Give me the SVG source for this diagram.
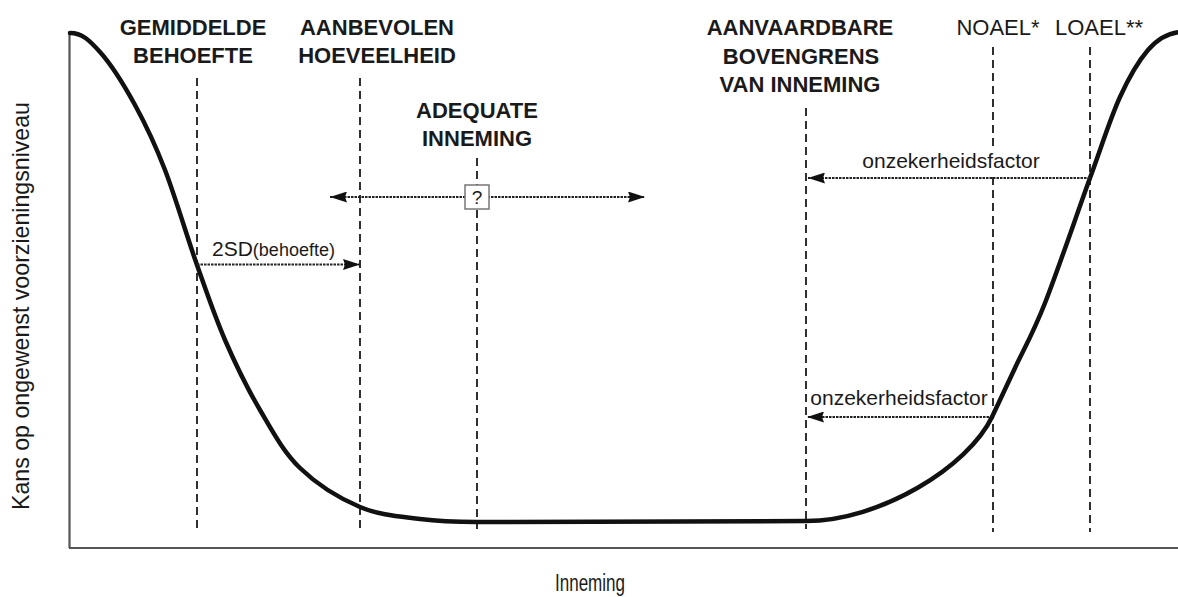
<svg xmlns="http://www.w3.org/2000/svg" width="1178" height="597" viewBox="0 0 1178 597">
  <style>
    .t { font-family: "Liberation Sans", Arial, sans-serif; fill: #1a1a1a; }
    .b { font-weight: bold; font-size: 22px; text-anchor: middle; }
    .r { font-size: 22px; text-anchor: middle; }
    .s { font-size: 21px; }
    .dash { stroke: #1a1a1a; stroke-width: 1.8; stroke-dasharray: 8 5; fill: none; }
    .arr { stroke: #222; stroke-width: 2.2; stroke-dasharray: 2.5 1; fill: none; }
    .axis { stroke: #555; stroke-width: 2.2; fill: none; }
  </style>
  <defs>
    <marker id="ah" viewBox="0 0 17 11" markerWidth="17" markerHeight="11" refX="17" refY="5.5" orient="auto-start-reverse" markerUnits="userSpaceOnUse">
      <path d="M0,0 L17,5.5 L0,11 L2,5.5 z" fill="#111"/>
    </marker>
  </defs>
  <rect width="1178" height="597" fill="#fff"/>

  <g id="axes">
    <line class="axis" x1="69.5" y1="32" x2="69.5" y2="548"/>
    <line class="axis" x1="69" y1="548" x2="1178" y2="548"/>
    <text class="t" font-size="24" text-anchor="middle" textLength="408" lengthAdjust="spacingAndGlyphs" transform="translate(29,306) rotate(-90)">Kans op ongewenst voorzieningsniveau</text>
    <text class="t" x="590" y="591" font-size="23" text-anchor="middle" textLength="70" lengthAdjust="spacingAndGlyphs">Inneming</text>
  </g>

  <g id="guides">
    <line class="dash" x1="197" y1="78" x2="197" y2="532"/>
    <line class="dash" x1="360" y1="78" x2="360" y2="532"/>
    <line class="dash" x1="477" y1="158" x2="477" y2="529"/>
    <line class="dash" x1="806" y1="108" x2="806" y2="529"/>
    <line class="dash" x1="993" y1="47" x2="993" y2="532"/>
    <line class="dash" x1="1090" y1="47" x2="1090" y2="532"/>
  </g>

  <g id="curve">
    <path d="M70,33 C82,33 89.2,40 100,52 C110.8,64 124.2,85.3 135,105 C145.8,124.7 154.7,143.3 165,170 C175.3,196.7 187,236.7 197,265 C207,293.3 214.5,315.8 225,340 C235.5,364.2 247.5,388.7 260,410 C272.5,431.3 283.3,451.8 300,468 C316.7,484.2 340,498.5 360,507 C380,515.5 400.5,516.5 420,519 C439.5,521.5 460,522 477,522 L806,521 C880,521 968,467 992,417 C1000,400 1006.2,387 1015,368 C1023.8,349 1032.5,334.7 1045,303 C1057.5,271.3 1077.5,212.3 1090,178 C1102.5,143.7 1110.3,118.3 1120,97 C1129.7,75.7 1138.8,60.7 1148,50 C1157.2,39.3 1168,33 1180,32" fill="none" stroke="#111" stroke-width="4.5" stroke-linecap="round" stroke-linejoin="round"/>
  </g>

  <g id="label-gemiddelde">
    <text class="t b" x="193" y="35">GEMIDDELDE</text>
    <text class="t b" x="193" y="63">BEHOEFTE</text>
  </g>
  <g id="label-aanbevolen">
    <text class="t b" x="377" y="35">AANBEVOLEN</text>
    <text class="t b" x="377" y="63">HOEVEELHEID</text>
  </g>
  <g id="label-adequate">
    <text class="t b" x="477" y="118">ADEQUATE</text>
    <text class="t b" x="477" y="146">INNEMING</text>
  </g>
  <g id="label-aanvaardbare">
    <text class="t b" x="800" y="35">AANVAARDBARE</text>
    <text class="t b" x="801" y="64">BOVENGRENS</text>
    <text class="t b" x="800" y="92">VAN INNEMING</text>
  </g>
  <g id="label-noael">
    <text class="t r" x="998" y="35">NOAEL*</text>
  </g>
  <g id="label-loael">
    <text class="t r" x="1099" y="35">LOAEL**</text>
  </g>

  <g id="connectors">
    <line class="arr" x1="197" y1="264.5" x2="360" y2="264.5" marker-end="url(#ah)"/>
    <line class="arr" x1="330" y1="197" x2="645" y2="197" marker-start="url(#ah)" marker-end="url(#ah)"/>
    <line class="arr" x1="1090" y1="178" x2="808" y2="178" marker-end="url(#ah)"/>
    <line class="arr" x1="989" y1="417" x2="807" y2="417" marker-end="url(#ah)"/>
  </g>

  <g id="label-2sd">
    <text class="t s" x="212" y="256">2SD<tspan font-size="18">(behoefte)</tspan></text>
  </g>
  <g id="box-question">
    <rect x="465" y="185" width="24" height="24" fill="#fff" stroke="#777" stroke-width="1.5"/>
    <text class="t" x="477" y="204" font-size="19" text-anchor="middle">?</text>
  </g>
  <g id="label-onzekerheid-upper">
    <rect x="861" y="147" width="182" height="28" fill="#fff"/>
    <text class="t s" x="951" y="168" text-anchor="middle">onzekerheidsfactor</text>
  </g>
  <g id="label-onzekerheid-lower">
    <text class="t s" x="899" y="405" text-anchor="middle">onzekerheidsfactor</text>
  </g>
</svg>
